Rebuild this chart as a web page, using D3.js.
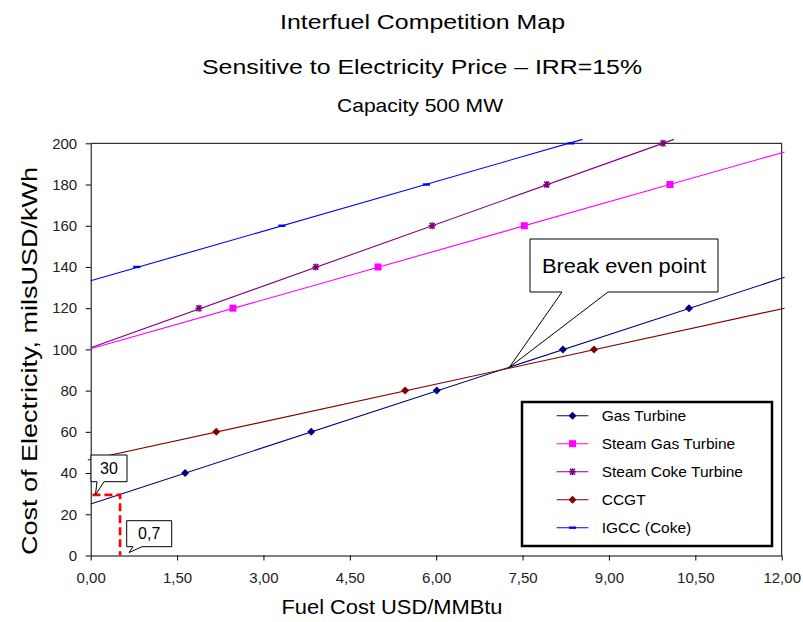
<!doctype html>
<html>
<head>
<meta charset="utf-8">
<style>
    body { margin: 0; background: #fff; }
    svg { font-family: "Liberation Sans", Arial, sans-serif; }
    .tick text { font-size: 15px; fill: #222; }
</style>
<script src="https://d3js.org/d3.v7.min.js"></script>
</head>
<body>
<svg width="803" height="622" class="chart"></svg>
<script>
// --- data ---
var seriesNames = ["Gas Turbine", "Steam Gas Turbine", "Steam Coke Turbine", "CCGT", "IGCC (Coke)"];

var gasTurbineX = [1.64, 3.83, 6.01, 8.20, 10.39];
var gasTurbineY = [40, 60, 80, 100, 120];
var gasTurbineLine = [[0, 25.0], [12.05, 135.0]];

var steamGasX = [2.47, 4.99, 7.53, 10.06];
var steamGasY = [120, 140, 160, 180];
var steamGasLine = [[0, 100.3], [12.05, 195.8]];

var steamCokeX = [1.88, 3.91, 5.93, 7.92, 9.94];
var steamCokeY = [120, 140, 160, 180, 200];
var steamCokeLine = [[0, 100.8], [10.13, 201.9]];

var ccgtX = [2.18, 5.46, 8.74];
var ccgtY = [60, 80, 100];
var ccgtLine = [[-0.05, 46.3], [12.05, 120.0]];

var igccX = [0.80, 3.32, 5.83, 8.34];
var igccY = [140, 160, 180, 200];
var igccLine = [[0, 133.3], [8.54, 201.9]];

var breakEven = [7.27, 91.3];
var markLine = [[0.03, 29.4], [0.51, 29.4], [0.51, 0]];
var markLabels = ["30", "0,7"];

var xTicks = [0, 1.5, 3, 4.5, 6, 7.5, 9, 10.5, 12];
var yTicks = [0, 20, 40, 60, 80, 100, 120, 140, 160, 180, 200];

var titles = ["Interfuel Competition Map", "Sensitive to Electricity Price \u2013 IRR=15%", "Capacity 500 MW"];
var xTitle = "Fuel Cost USD/MMBtu";
var yTitle = "Cost of Electricity, milsUSD/kWh";

// --- chart ---
var svg = d3.select(".chart");

var x = d3.scaleLinear().domain([0, 12]).range([90.7, 781.7]),
    y = d3.scaleLinear().domain([0, 200]).range([555.5, 143.3]);

var colors = ["#000080", "#ff00ff", "#800080", "#800000", "#0000ff"];
var shapes = ["diamond", "square", "star", "diamond", "dash"];

var series = [
    { xs: gasTurbineX, ys: gasTurbineY, line: gasTurbineLine },
    { xs: steamGasX, ys: steamGasY, line: steamGasLine },
    { xs: steamCokeX, ys: steamCokeY, line: steamCokeLine },
    { xs: ccgtX, ys: ccgtY, line: ccgtLine },
    { xs: igccX, ys: igccY, line: igccLine }
];

function marker(g, shape, color, cx, cy) {
    if (shape == "diamond") {
        g.append("path").attr("d", "M" + cx + "," + (cy - 4) + "L" + (cx + 4) + "," + cy +
            "L" + cx + "," + (cy + 4) + "L" + (cx - 4) + "," + cy + "Z").attr("fill", color);
    } else if (shape == "square") {
        g.append("rect").attr("x", cx - 3.5).attr("y", cy - 3.5).attr("width", 7).attr("height", 7).attr("fill", color);
    } else if (shape == "star") {
        var p = "M" + (cx - 3.5) + "," + cy + "H" + (cx + 3.5) +
                "M" + (cx - 2.5) + "," + (cy - 3) + "L" + (cx + 2.5) + "," + (cy + 3) +
                "M" + (cx + 2.5) + "," + (cy - 3) + "L" + (cx - 2.5) + "," + (cy + 3) +
                "M" + cx + "," + (cy - 3.5) + "V" + (cy + 3.5);
        g.append("path").attr("d", p).attr("stroke", color).attr("stroke-width", 1.4).attr("fill", "none");
    } else {
        g.append("rect").attr("x", cx - 3.5).attr("y", cy - 1.2).attr("width", 7).attr("height", 2.4).attr("fill", color);
    }
}

// text helper: fixes the drawn width to what the picture shows
function label(px, py, str, size, width, rot) {
    var t = svg.append("text").attr("text-anchor", "middle").attr("font-size", size + "px")
        .attr("textLength", width).attr("lengthAdjust", "spacingAndGlyphs").text(str);
    if (rot) t.attr("transform", "translate(" + px + "," + py + ") rotate(-90)");
    else t.attr("x", px).attr("y", py);
    return t;
}

// titles
label(422.5, 29, titles[0], 20, 285);
label(422, 74, titles[1], 20, 440);
label(420, 112, titles[2], 19, 166);

// axes
svg.append("g").attr("transform", "translate(" + x(0) + ",0)")
    .call(d3.axisLeft(y).tickValues(yTicks).tickSize(5).tickPadding(8.5).tickSizeOuter(0));
svg.append("g").attr("transform", "translate(0," + y(0) + ")")
    .call(d3.axisBottom(x).tickValues(xTicks).tickSize(5).tickPadding(12).tickSizeOuter(0)
        .tickFormat(function(d) { return d3.format(".2f")(d).replace(".", ","); }));
svg.selectAll(".domain, .tick line").attr("stroke", "#000");

// plot frame (top and right)
svg.append("path")
   .attr("d", "M" + x(0) + "," + y(200) + "H" + x(12) + "V" + y(0))
   .attr("fill", "none").attr("stroke", "#000");

label(392, 614, xTitle, 21, 221);
label(37, 361, yTitle, 22, 388, true);

// series
var lineGen = d3.line().x(function(d) { return x(d[0]); }).y(function(d) { return y(d[1]); });
series.forEach(function(s, i) {
    var g = svg.append("g");
    g.append("path").attr("d", lineGen(s.line)).attr("fill", "none")
     .attr("stroke", colors[i]).attr("stroke-width", 1.1);
    s.xs.forEach(function(v, j) { marker(g, shapes[i], colors[i], x(v), y(s.ys[j])); });
});

// red dashed guide
svg.append("path").attr("d", lineGen(markLine)).attr("fill", "none")
   .attr("stroke", "#ff0000").attr("stroke-width", 2.6).attr("stroke-dasharray", "8,4");

// callouts
function callout(box, base, tip, str, size, width) {
    var x0 = box[0], y0 = box[1], x1 = box[2], y1 = box[3];
    var d = "M" + x0 + "," + y0 + "H" + x1 + "V" + y1 + "H" + base[1] +
            "L" + tip[0] + "," + tip[1] + "L" + base[0] + "," + y1 + "H" + x0 + "Z";
    svg.append("path").attr("d", d).attr("fill", "#fff").attr("stroke", "#000").attr("stroke-width", 1);
    var t = svg.append("text").attr("x", (x0 + x1) / 2).attr("y", (y0 + y1) / 2)
       .attr("dy", "0.36em").attr("text-anchor", "middle").attr("font-size", size + "px").text(str);
    if (width) t.attr("textLength", width).attr("lengthAdjust", "spacingAndGlyphs");
}
callout([530, 239, 718, 292], [562, 608], [x(breakEven[0]), y(breakEven[1])], "Break even point", 20, 164);
callout([91, 455, 127, 481.7], [97, 104], [x(markLine[0][0]) + 3, y(markLine[0][1])], markLabels[0], 16);
callout([126.7, 520.7, 171.7, 546.7], [133, 142], [x(markLine[1][0]) + 9, y(0) - 3], markLabels[1], 16);

// legend
var leg = svg.append("g");
leg.append("rect").attr("x", 522).attr("y", 402).attr("width", 250).attr("height", 144)
   .attr("fill", "#fff").attr("stroke", "#000").attr("stroke-width", 2.5);
seriesNames.forEach(function(name, i) {
    var ly = 415.7 + i * 28;
    leg.append("line").attr("x1", 556.7).attr("x2", 588.3).attr("y1", ly).attr("y2", ly)
       .attr("stroke", colors[i]).attr("stroke-width", 1.1);
    marker(leg, shapes[i], colors[i], 572.5, ly);
    leg.append("text").attr("x", 601.7).attr("y", ly).attr("dy", "0.36em")
       .attr("font-size", "15.5px").text(name);
});
</script>
</body>
</html>
